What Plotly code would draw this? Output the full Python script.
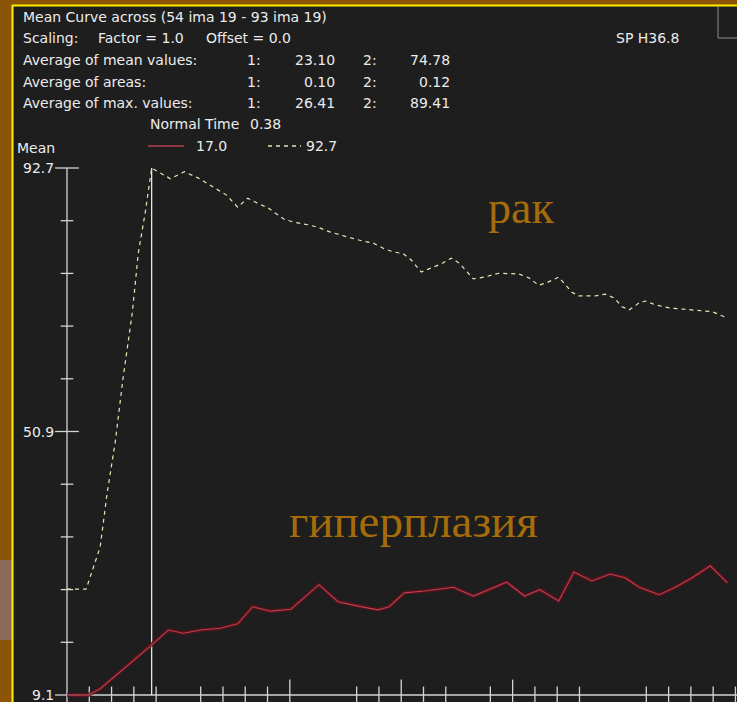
import plotly.graph_objects as go

# ---- data (time in minutes, mean signal) ----
NORMAL_TIME = 0.38

cancer_t = [0.0, 0.086, 0.149, 0.180, 0.216, 0.252, 0.293, 0.320, 0.351, NORMAL_TIME,
            0.464, 0.527, 0.590, 0.653, 0.716, 0.766, 0.811, 0.856, 0.901, 0.973,
            1.018, 1.081, 1.126, 1.176, 1.221, 1.275, 1.329, 1.374, 1.423, 1.464,
            1.509, 1.545, 1.590, 1.635, 1.680, 1.725, 1.761, 1.824, 1.874, 1.937,
            2.027, 2.072, 2.117, 2.153, 2.207, 2.266, 2.297, 2.369, 2.414, 2.455,
            2.491, 2.523, 2.568, 2.595, 2.640, 2.703, 2.806, 2.896, 2.964]
cancer_v = [25.9, 25.9, 32.6, 41.1, 49.1, 59.5, 69.7, 79.2, 85.6, 92.7,
            91.0, 92.1, 91.1, 89.8, 88.4, 86.5, 87.9, 87.1, 86.4, 84.6,
            84.1, 83.7, 83.3, 82.6, 82.1, 81.6, 81.1, 80.8, 79.9, 79.4,
            79.1, 78.1, 76.2, 76.8, 77.5, 78.4, 77.6, 75.1, 75.4, 76.0,
            75.9, 75.3, 74.1, 74.5, 75.4, 73.0, 72.4, 72.4, 72.7, 72.1,
            70.7, 70.2, 71.3, 71.6, 71.0, 70.5, 70.2, 69.9, 68.9]

hyper_t = [0.0, 0.095, 0.149, NORMAL_TIME, 0.455, 0.523, 0.599, 0.689, 0.766, 0.833,
           0.914, 1.005, 1.131, 1.216, 1.306, 1.396, 1.446, 1.514, 1.604, 1.734,
           1.824, 1.973, 2.054, 2.122, 2.207, 2.275, 2.356, 2.437, 2.505, 2.568,
           2.658, 2.730, 2.806, 2.887, 2.964]
hyper_v = [9.1, 9.1, 10.1, 17.0, 19.4, 18.9, 19.4, 19.7, 20.4, 23.1,
           22.4, 22.7, 26.6, 23.9, 23.2, 22.6, 23.1, 25.3, 25.6, 26.2,
           24.8, 27.0, 24.8, 25.8, 24.0, 28.6, 27.2, 28.3, 27.7, 26.2,
           25.0, 26.2, 27.7, 29.6, 26.9]

y_major = [9.1, 50.9, 92.7]
y_minor_count = 4
x_ticks = [0.1, 0.2, 0.3, 0.4, 0.6, 0.7, 0.8, 0.9, 1.0, 1.3, 1.4, 1.5, 1.6, 1.7,
           1.9, 2.0, 2.1, 2.2, 2.3, 2.6, 2.7, 2.8, 2.9, 3.0]
x_major_ticks = [1.0, 1.5, 2.0]

header_rows = [
    ("Average of mean values:", "23.10", "74.78"),
    ("Average of areas:", "0.10", "0.12"),
    ("Average of max. values:", "26.41", "89.41"),
]

# ---- styling ----
W, H = 737, 702
BG = "#1e1e1e"
TXT = "#ececec"
AX = "#d4d4d4"
YEL = "#e9e6b4"
RED = "#b8404f"
GOLD = "#a46c0a"
FONT = "DejaVu Sans"

X_RANGE = [-0.3007, 3.007]
Y_RANGE = [7.99, 119.35]


def px(x):
    return x / W


def py(y):
    return 1 - y / H


fig = go.Figure()

# axis lines
fig.add_trace(go.Scatter(x=[0, 0], y=[Y_RANGE[0], y_major[-1]], mode="lines",
                         line=dict(color=AX, width=1.3), hoverinfo="skip"))
fig.add_trace(go.Scatter(x=[0, X_RANGE[1]], y=[y_major[0], y_major[0]], mode="lines",
                         line=dict(color=AX, width=1.3), hoverinfo="skip"))

# y ticks
step = (y_major[1] - y_major[0]) / (y_minor_count + 1)
y_minor = []
for a in y_major[:-1]:
    y_minor += [a + step * k for k in range(1, y_minor_count + 1)]
fig.add_trace(go.Scatter(x=[0] * len(y_major), y=y_major, mode="markers",
                         marker=dict(symbol="line-ew", size=17, line=dict(color=AX, width=1.3)),
                         hoverinfo="skip"))
fig.add_trace(go.Scatter(x=[0] * len(y_minor), y=y_minor, mode="markers",
                         marker=dict(symbol="line-ew", size=9, line=dict(color=AX, width=1.3)),
                         hoverinfo="skip"))

# x ticks
minor_x = [t for t in x_ticks if t not in x_major_ticks]
fig.add_trace(go.Scatter(x=minor_x, y=[y_major[0]] * len(minor_x), mode="markers",
                         marker=dict(symbol="line-ns", size=12, line=dict(color=AX, width=1.3)),
                         hoverinfo="skip"))
fig.add_trace(go.Scatter(x=x_major_ticks, y=[y_major[0]] * len(x_major_ticks), mode="markers",
                         marker=dict(symbol="line-ns", size=22, line=dict(color=AX, width=1.3)),
                         hoverinfo="skip"))

# normal time marker
fig.add_trace(go.Scatter(x=[NORMAL_TIME, NORMAL_TIME], y=[y_major[0], y_major[-1]], mode="lines",
                         line=dict(color="#f4f4f4", width=1.2), hoverinfo="skip"))

# curves
fig.add_trace(go.Scatter(x=hyper_t, y=hyper_v, mode="lines",
                         line=dict(color="rgba(95,16,26,0.8)", width=4), hoverinfo="skip"))
fig.add_trace(go.Scatter(x=hyper_t, y=hyper_v, mode="lines",
                         line=dict(color=RED, width=1.1), hoverinfo="skip"))
fig.add_trace(go.Scatter(x=cancer_t, y=cancer_v, mode="lines",
                         line=dict(color=YEL, width=1.2, dash="4px,4px"), hoverinfo="skip"))

# ---- frame and decorations ----
shapes = [
    dict(type="rect", xref="paper", yref="paper", x0=px(13), x1=1, y0=0, y1=py(6),
         fillcolor=BG, line=dict(width=0), layer="below"),
    dict(type="rect", xref="paper", yref="paper", x0=0, x1=px(12), y0=py(640), y1=py(560),
         fillcolor="#8d6a58", line=dict(width=0), layer="below"),
    dict(type="line", xref="paper", yref="paper", x0=px(12.5), x1=px(12.5), y0=0, y1=py(5),
         line=dict(color="#ffee00", width=2)),
    dict(type="line", xref="paper", yref="paper", x0=px(12), x1=1, y0=py(5.5), y1=py(5.5),
         line=dict(color="#ffee00", width=2)),
    dict(type="line", xref="paper", yref="paper", x0=px(718), x1=px(718), y0=py(6), y1=py(38),
         line=dict(color="#8a8a8a", width=1)),
    dict(type="line", xref="paper", yref="paper", x0=px(718), x1=1, y0=py(38), y1=py(38),
         line=dict(color="#8a8a8a", width=1)),
    # legend samples
    dict(type="line", xref="paper", yref="paper", x0=px(148), x1=px(184), y0=py(146), y1=py(146),
         line=dict(color=RED, width=1.3)),
    dict(type="line", xref="paper", yref="paper", x0=px(268), x1=px(301), y0=py(146), y1=py(146),
         line=dict(color=YEL, width=1.3, dash="4px,4px")),
]

ann = []


def text(x, y, s, anchor="left", size=14, color=TXT, family=FONT):
    ann.append(dict(x=px(x), y=py(y), xref="paper", yref="paper", text=s, showarrow=False,
                    xanchor=anchor, yanchor="middle", font=dict(family=family, size=size, color=color)))


text(21, 17, "Mean Curve across (54 ima 19 - 93 ima 19)")
text(21, 38, "Scaling:")
text(96, 38, "Factor = 1.0")
text(204, 38, "Offset = 0.0")
text(681, 38, "SP H36.8", anchor="right")
for i, (lab, v1, v2) in enumerate(header_rows):
    yy = 60 + i * 21.5
    text(21, yy, lab)
    text(245, yy, "1:")
    text(337, yy, v1, anchor="right")
    text(361, yy, "2:")
    text(452, yy, v2, anchor="right")
text(148, 124, "Normal Time")
text(248, 124, f"{NORMAL_TIME:.2f}")
text(15, 148, "Mean")
# legend values: each curve's mean at the normal time
text(194, 146, f"{hyper_v[hyper_t.index(NORMAL_TIME)]:.1f}")
text(304, 146, f"{cancer_v[cancer_t.index(NORMAL_TIME)]:.1f}")

# y tick labels
for v in y_major:
    ann.append(dict(x=0, y=v, xref="x", yref="y", text=f"{v:.1f}", showarrow=False,
                    xanchor="right", yanchor="middle", xshift=-11,
                    font=dict(family=FONT, size=14, color=TXT)))

text(486, 207, "рак", size=46, color=GOLD, family="Liberation Serif")
text(287, 521, "гиперплазия", size=47, color=GOLD, family="Liberation Serif")

fig.update_layout(
    width=W, height=H, margin=dict(l=0, r=0, t=0, b=0),
    paper_bgcolor="#8c5406", plot_bgcolor="rgba(0,0,0,0)",
    showlegend=False, shapes=shapes, annotations=ann,
    xaxis=dict(range=X_RANGE, visible=False, fixedrange=True),
    yaxis=dict(range=Y_RANGE, visible=False, fixedrange=True),
)

fig.write_html("out.html")
